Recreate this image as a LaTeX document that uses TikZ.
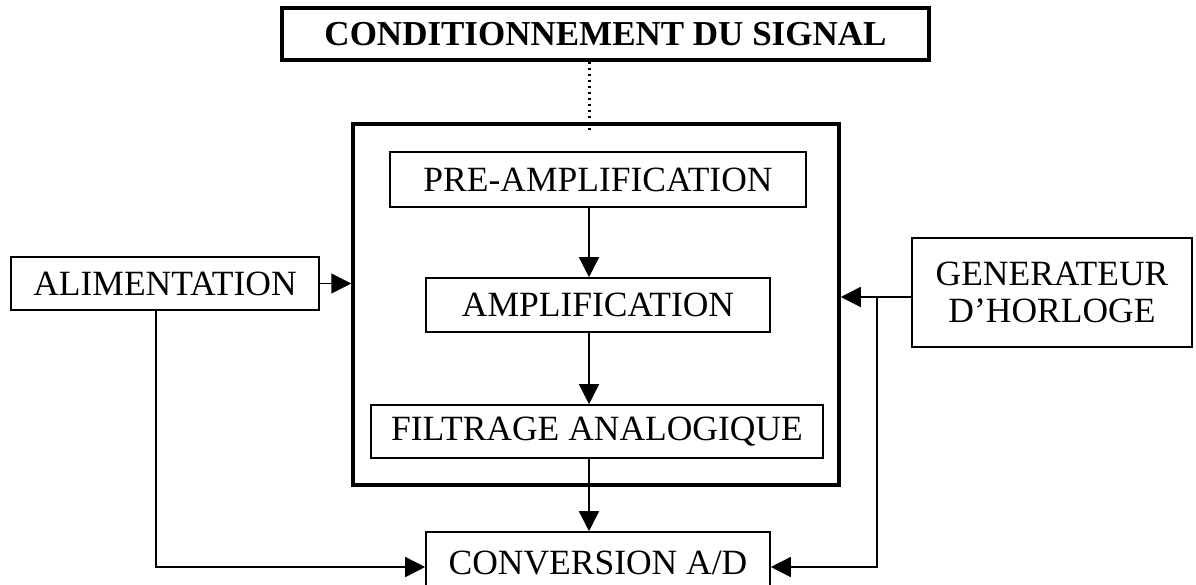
\documentclass[tikz,border=0pt]{standalone}
\usepackage{fontspec}
\setmainfont{Liberation Serif}
\usetikzlibrary{arrows.meta}
\tikzset{
  box/.style={draw, line width=1.6pt, inner sep=0pt, align=center, font=\fontsize{35.5}{38}\selectfont},
  thickbox/.style={draw, line width=3.5pt, inner sep=0pt},
  arr/.style={line width=1.5pt, -{Triangle[length=20pt,width=20pt]}},
  dotline/.style={line width=3pt, dash pattern=on 2.2pt off 3.8pt}
}
\begin{document}
\begin{tikzpicture}[x=1pt,y=-1pt]
\clip (0,0) rectangle (1196,585);
\fill[white] (0,0) rectangle (1196,585);
% coordinates
\coordinate (ax) at (589,0);
\coordinate (lx) at (156,0);
\coordinate (jx) at (877,0);
\coordinate (genY) at (0,297);
\coordinate (lowy) at (0,567);
\coordinate (dotend) at (589,132);
% nodes
\node[thickbox, minimum width=647pt, minimum height=52pt, font=\fontsize{35}{38}\selectfont\bfseries] (title) at (605.5,34) {CONDITIONNEMENT DU SIGNAL};
\node[thickbox, minimum width=486pt, minimum height=361pt] (big) at (596,304.5) {};
\node[box, minimum width=416pt, minimum height=55pt] (pre) at (598,179.5) {PRE-AMPLIFICATION};
\node[box, minimum width=344pt, minimum height=54pt] (amp) at (598,305) {AMPLIFICATION};
\node[box, minimum width=452pt, minimum height=53pt] (filt) at (597,431.5) {FILTRAGE ANALOGIQUE};
\node[box, minimum width=308pt, minimum height=53pt] (alim) at (165,283.5) {ALIMENTATION};
\node[box, minimum width=280pt, minimum height=109pt, font=\fontsize{35.5}{37}\selectfont] (gen) at (1052,292.5) {GENERATEUR\\D’HORLOGE};
\node[box, minimum width=344pt, minimum height=62pt] (conv) at (598,563) {CONVERSION A/D};
% connectors
\draw[dotline] (title.south -| ax) -- (dotend);
\draw[arr] (pre.south -| ax) -- (amp.north -| ax);
\draw[arr] (amp.south -| ax) -- (filt.north -| ax);
\draw[arr] (filt.south -| ax) -- (conv.north -| ax);
\draw[arr] (alim.east) -- (big.west |- alim.east);
\draw[arr] (alim.south -| lx) |- (conv.west |- lowy);
\draw[arr] (gen.west |- genY) -- (big.east |- genY);
\draw[arr] (jx |- genY) |- (conv.east |- lowy);
\end{tikzpicture}
\end{document}
